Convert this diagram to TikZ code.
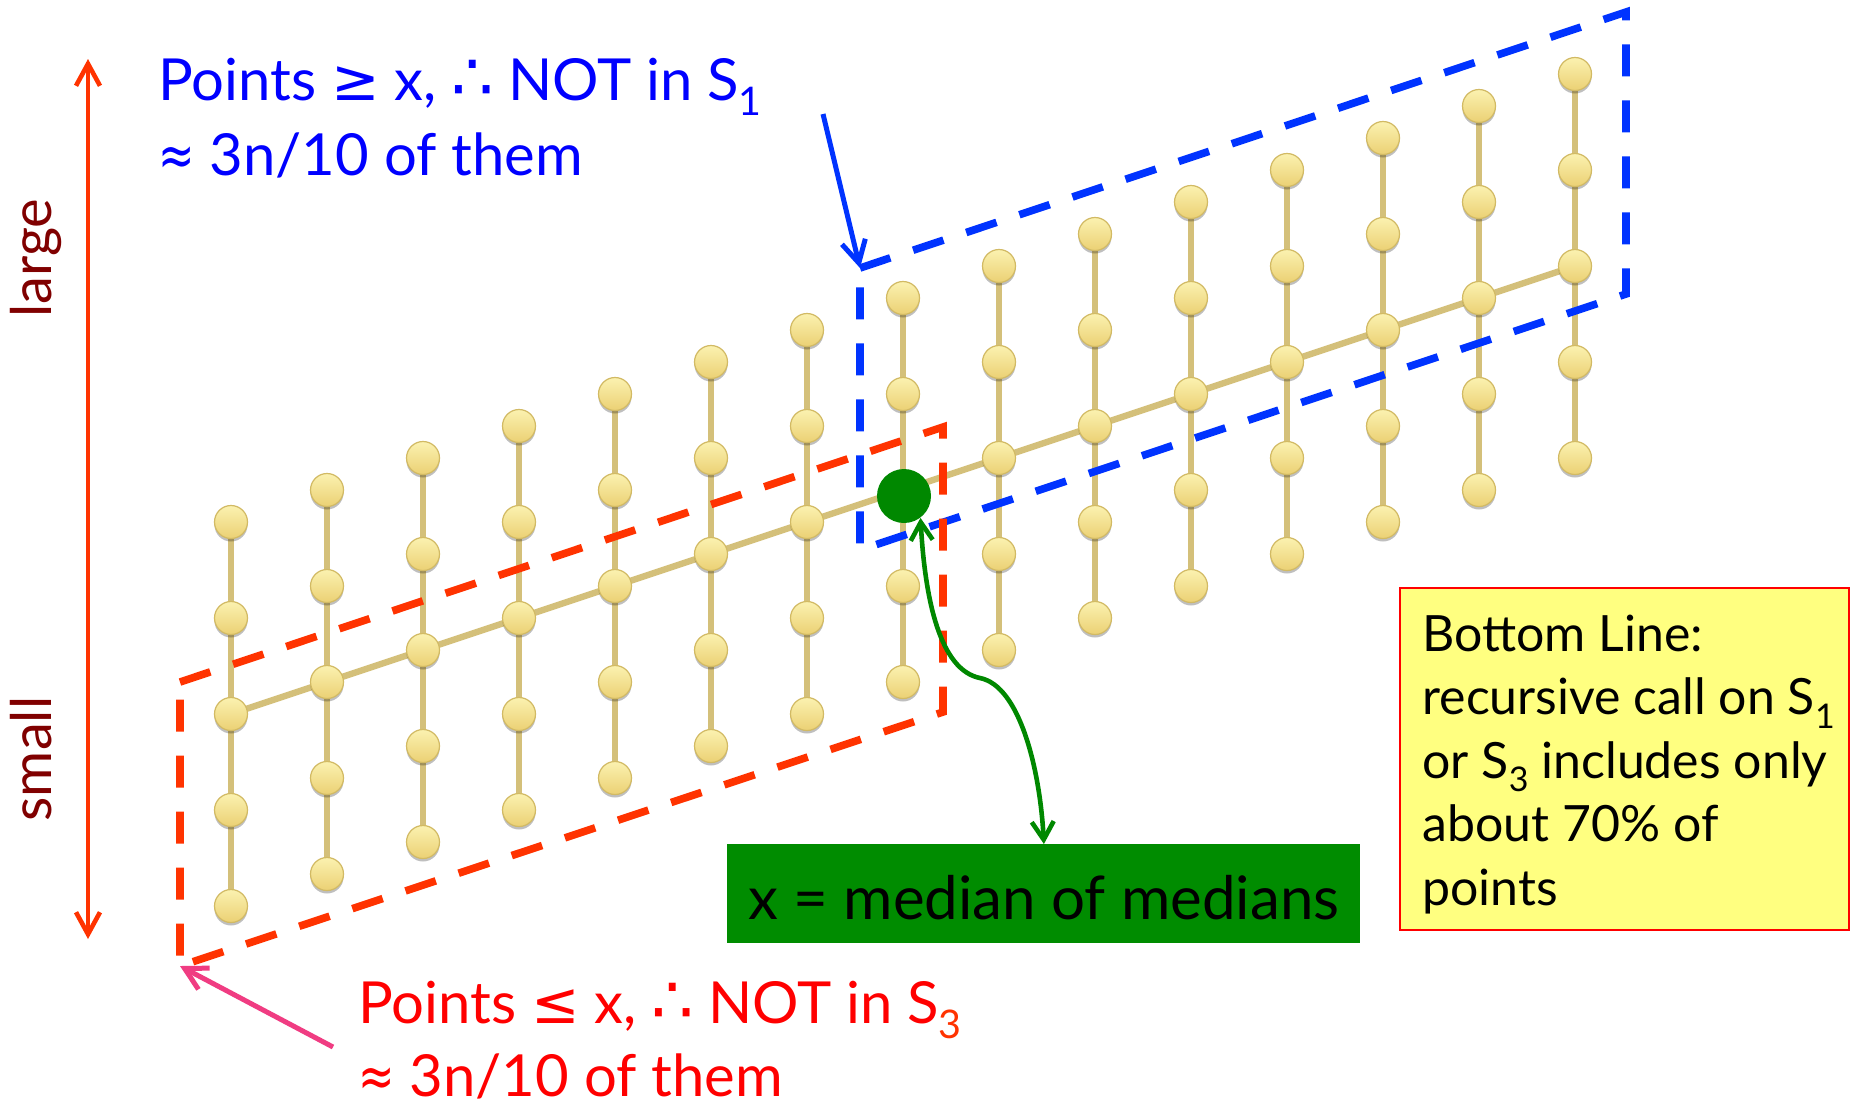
\documentclass[tikz,border=0pt]{standalone}
\usepackage{fontspec}
\usepackage{graphicx}
\setmainfont{Lato}
\newfontfamily\symfont{DejaVu Sans}
\usetikzlibrary{arrows.meta,shadows,backgrounds}
\definecolor{dotline}{RGB}{212,192,122}
\definecolor{dottop}{RGB}{251,242,176}
\definecolor{dotbot}{RGB}{235,208,116}
\definecolor{dotedge}{RGB}{210,186,100}
\definecolor{medgreen}{RGB}{0,136,0}
\definecolor{boxgreen}{RGB}{0,140,0}
\definecolor{axisred}{RGB}{255,51,0}
\definecolor{boxblue}{RGB}{0,51,255}
\definecolor{txtblue}{RGB}{0,0,255}
\definecolor{txtred}{RGB}{255,0,0}
\definecolor{darkred}{RGB}{128,0,0}
\definecolor{pinkarrow}{RGB}{240,60,130}
\definecolor{noteyellow}{RGB}{255,255,128}
\newcommand\thfr{\hspace{0.25em}{\symfont\scalebox{1.15}{∴}}\hspace{0.25em}}
\newcommand\sy[1]{{\symfont #1}}
\newcommand\apx{{\symfont\scalebox{0.75}[1]{≈}}}
\newcommand\sbs[1]{\raisebox{-0.27em}{\scalebox{0.68}{#1}}}
\tikzset{
  pt/.style={circle, minimum size=16.5pt, inner sep=0pt, draw=dotedge, line width=0.6pt,
    top color=dottop, bottom color=dotbot,
    drop shadow={shadow xshift=0pt, shadow yshift=-1.5pt, opacity=0.25, fill=black}},
  colline/.style={draw=dotline, line width=2.6pt},
  medline/.style={draw=dotline, line width=3.2pt},
  dashbox/.style={line width=3.8pt, dash pattern=on 16pt off 12pt},
  maintext/.style={inner sep=0pt, anchor=base west, align=left, font=\fontsize{29}{37.5}\selectfont},
  sidelabel/.style={darkred, rotate=90, anchor=base, inner sep=0pt, font=\fontsize{28}{30}\selectfont},
}
\begin{document}
\begin{tikzpicture}[x=0.5pt, y=-0.5pt]
\useasboundingbox (0,0) rectangle (1850,1110);

% grid of points
\foreach \i in {0,...,14} {
  \foreach \k in {0,...,4} {
    \node[pt] (d-\i-\k) at ({231+96*\i}, {714-32*\i+96*(\k-2)}) {};
  }
}
\begin{scope}[on background layer]
  \fill[white] (0,0) rectangle (1850,1110);
  \foreach \i in {0,...,14} \draw[colline] (d-\i-0.center) -- (d-\i-4.center);
  \draw[medline] (d-0-2.center) -- (d-14-2.center);
\end{scope}

% median of medians
\node[circle, fill=medgreen, minimum size=27pt, inner sep=0pt] (xmed) at (904,496) {};

% dashed regions
\coordinate (b-tl) at (860,268);
\coordinate (b-tr) at (1626,12);
\coordinate (b-br) at (1626,294);
\coordinate (b-bl) at (860,550);
\draw[dashbox, boxblue] (b-tl) -- (b-tr) -- (b-br) -- (b-bl) -- cycle;
\coordinate (r-tl) at (180,682);
\coordinate (r-tr) at (943,427);
\coordinate (r-br) at (943,712);
\coordinate (r-bl) at (180,966);
\draw[dashbox, axisred] (r-tl) -- (r-tr) -- (r-br) -- (r-bl) -- cycle;

% vertical axis
\coordinate (ax-top) at (88,59);
\coordinate (ax-bot) at (88,939);
\draw[axisred, line width=2.3pt, {Straight Barb[length=11pt,width=12pt]}-{Straight Barb[length=11pt,width=12pt]}] (ax-top) -- (ax-bot);
\node[sidelabel] (lbl-large) at (51,258) {large};
\node[sidelabel] (lbl-small) at (51,759) {small};

% blue annotation (anchor = baseline of last line)
\node[maintext, txtblue] (t-blue) at (158,175) {Points \sy{≥} x,\thfr NOT in S\sbs{1}\\\apx\ 3n/10 of them};
\coordinate (b-from) at (823,114);
\draw[boxblue, line width=2.5pt, -{Straight Barb[length=11pt,width=12pt]}] (b-from) -- (b-tl);

% red annotation
\node[maintext, txtred, font=\fontsize{29}{36.5}\selectfont] (t-red) at (358,1096) {Points \sy{≤} x,\thfr NOT in S\sbs{\textcolor{axisred}{3}}\\\apx\ 3n/10 of them};
\coordinate (r-from) at (333,1047);
\draw[pinkarrow, line width=2.5pt, -{Straight Barb[length=11pt,width=12pt]}] (r-from) -- (r-bl);

% green label
\node[fill=boxgreen, anchor=north west, minimum width=316.5pt, minimum height=49.5pt, inner sep=0pt] (gbox) at (727,844) {};
\node[inner sep=0pt, anchor=base west, font=\fontsize{30}{36}\selectfont, black] (gtext) at (748,919) {x = median of medians};
\draw[medgreen, line width=2.3pt, {Straight Barb[length=9pt,width=11pt]}-{Straight Barb[length=9pt,width=11pt]}]
  (xmed.-53) .. controls (925,600) and (940,670) .. (980,678) .. controls (1020,686) and (1040,770) .. (gbox.north);

% yellow note
\node[fill=noteyellow, draw=txtred, line width=1pt, anchor=north west, minimum width=224.5pt, minimum height=171pt, inner sep=0pt] (note) at (1399,587) {};
\node[inner sep=0pt, anchor=base west, align=left, font=\fontsize{25}{31.75}\selectfont] (notetext) at (1422,905)
  {Bottom Line:\\recursive call on S\sbs{1}\\or S\sbs{3} includes only\\about 70\% of\\points};
\end{tikzpicture}
\end{document}
